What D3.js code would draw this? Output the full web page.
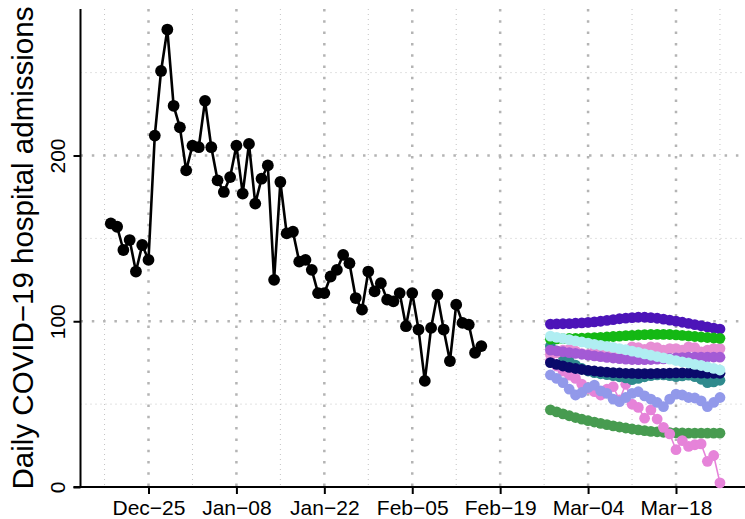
<!DOCTYPE html>
<html><head><meta charset="utf-8">
<script src="https://cdn.jsdelivr.net/npm/d3@7"></script>
<style>
html,body{margin:0;padding:0;background:#fff;}
svg{display:block;font-family:"Liberation Sans",Arial,Helvetica,sans-serif;}
</style>
</head><body>
<svg id="chart" width="745" height="519"></svg>
<script>
// ---------- DATA ----------
const observedStart = "2023-12-19";
const observed = [159,157,143,149,130,146,137,212,251,276,230,217,191,206,205,233,205,185,178,187,206,177,207,171,186,194,125,184,153,154,136,137,131,117,117,127,131,140,135,114,107,130,118,123,113,112,117,97,117,95,64,96,116,95,76,110,99,98,81,85];

const forecastStart = "2024-02-27";
const fcSeaGreen = [46.5,45.3,44.1,43.0,41.9,40.9,40.0,39.2,38.4,37.6,36.9,36.2,35.6,35.0,34.5,34.0,33.6,33.3,33.0,32.8,32.7,32.6,32.5,32.5,32.5,32.5,32.5,32.5];
const fcPinkLower = [76,73,70,67.5,65.5,62,59.5,57.5,55.5,59,60.5,52.5,62,50,48,41.5,46.5,41,36,32,22.5,28,24.5,25.5,26,15.5,19,2.5];
const fcPeriwinkle = [67.6,65.5,63,59,55.5,57,60,61.5,58,56.5,53,51.5,54,56.5,57.5,55,53,51,48.5,53,56,55.5,54,53.7,52,48.5,51,54];
const fcTeal = [85.0,82.0,79.0,76.0,73.5,71.5,70.0,69.0,68.3,67.8,67.2,66.5,65.8,64.8,65.5,66.5,67.2,67.6,67.6,67.2,66.6,67.0,67.5,66.6,65.0,63.0,63.4,64.4];
const fcPinkUpper = [80,81,82.5,83,82,80.5,80,81.5,81,79.5,80,80.5,81,84.5,84,83,84.5,84,82.5,83.5,83.5,82.5,84.5,84,81.5,82.5,83.5,83.5];
const fcMedPurple = [82.6,82.1,81.6,81.1,80.6,80.1,79.6,79.1,78.6,78.2,77.8,77.4,77.1,76.9,76.8,76.8,76.9,77.1,77.3,77.6,77.9,78.1,78.3,78.4,78.4,78.4,78.4,78.3];
const fcNavy = [75.0,74.0,73.0,72.2,71.5,70.9,70.4,70.0,69.6,69.3,69.0,68.8,68.6,68.5,68.4,68.4,68.4,68.5,68.6,68.7,68.8,68.8,68.8,68.8,68.7,68.6,68.6,68.6];
const fcPurple = [98.3,98.4,98.5,98.6,98.8,99.0,99.3,99.6,100.0,100.5,101.0,101.5,101.9,102.2,102.4,102.4,102.2,101.8,101.3,100.7,100.1,99.4,98.7,98.0,97.3,96.6,95.9,95.3];
const fcGreen = [89.3,89.4,89.5,89.6,89.7,89.8,89.9,90.1,90.3,90.5,90.8,91.0,91.3,91.5,91.7,91.9,92.0,92.1,92.1,92.0,91.8,91.5,91.2,90.8,90.5,90.2,89.9,89.7];
const fcCyan = [91.0,90.3,89.6,88.9,88.2,87.5,86.8,86.1,85.5,84.9,84.2,83.5,82.8,82.0,81.2,80.3,79.5,78.7,77.9,77.1,76.3,75.5,74.8,74.0,73.3,72.5,71.6,70.6];

const forecastList = [fcSeaGreen, fcPinkLower, fcPeriwinkle, fcTeal, fcPinkUpper, fcMedPurple, fcNavy, fcPurple, fcGreen, fcCyan];
const forecastColors = ["#479b50","#e683d9","#9299ea","#2f8a8d","#e78ed4","#a35ad5","#0a0a6b","#4c14b8","#14b814","#b0eef2"];

const xTickDates = ["2023-12-25","2024-01-08","2024-01-22","2024-02-05","2024-02-19","2024-03-04","2024-03-18"];
const xTickLabels = ["Dec\u221225","Jan\u221208","Jan\u221222","Feb\u221205","Feb\u221219","Mar\u221204","Mar\u221218"];
const yTicks = [0,100,200];
const yTickLabels = ["0","100","200"];
const yMinorGrid = [50,150,250];
const yTitle = "Daily COVID\u221219 hospital admissions";

// ---------- LAYOUT ----------
const pLeft = 80.5, pTop = 9, pBottom = 487, pRight = 745;

const svg = d3.select("#chart");
const parse = s => new Date(s + "T00:00:00Z");

const x = d3.scaleUtc().domain([parse("2023-12-25"), parse("2024-03-18")]).range([148.5, 676]);
const y = d3.scaleLinear().domain([0, 200]).range([487, 155.5]);

// ---------- GRID ----------
const g = svg.append("g");
const majorDates = xTickDates.map(parse);
const minorDates = d3.utcDay.range(parse("2023-12-18"), parse("2024-03-26"), 14);

g.selectAll("line.vmin").data(minorDates).enter().append("line")
  .attr("x1", d => x(d)).attr("x2", d => x(d)).attr("y1", pTop).attr("y2", pBottom)
  .attr("stroke", "#c4c4c4").attr("stroke-width", 1).attr("stroke-dasharray", "1,4");
g.selectAll("line.hmin").data(yMinorGrid).enter().append("line")
  .attr("x1", pLeft).attr("x2", pRight).attr("y1", d => y(d)).attr("y2", d => y(d))
  .attr("stroke", "#c4c4c4").attr("stroke-width", 1).attr("stroke-dasharray", "1,4");
g.selectAll("line.vmaj").data(majorDates).enter().append("line")
  .attr("x1", d => x(d)).attr("x2", d => x(d)).attr("y1", pTop).attr("y2", pBottom)
  .attr("stroke", "#b4b4b4").attr("stroke-width", 2.5).attr("stroke-dasharray", "2.5,8.8");
g.selectAll("line.hmaj").data(yTicks.filter(v => v > 0)).enter().append("line")
  .attr("x1", pLeft).attr("x2", pRight).attr("y1", d => y(d)).attr("y2", d => y(d))
  .attr("stroke", "#b4b4b4").attr("stroke-width", 2.5).attr("stroke-dasharray", "2.5,8.8");

// ---------- AXES ----------
const xAxis = d3.axisBottom(x).tickValues(majorDates).tickFormat((d, i) => xTickLabels[i]).tickSize(7).tickSizeOuter(0);
const gx = svg.append("g").attr("transform", `translate(0,${pBottom})`).call(xAxis);
gx.select(".domain").remove();
gx.selectAll(".tick line").attr("stroke", "#000").attr("stroke-width", 2);
gx.selectAll(".tick text").attr("y", 28).attr("dy", 0).attr("fill", "#000")
  .style("font-size", "21px").style("font-family", '"Liberation Sans",Arial,sans-serif');

const yAxis = d3.axisLeft(y).tickValues(yTicks).tickFormat((d, i) => yTickLabels[i]).tickSize(7).tickSizeOuter(0);
const gy = svg.append("g").attr("transform", `translate(${pLeft},0)`).call(yAxis);
gy.select(".domain").remove();
gy.selectAll(".tick line").attr("stroke", "#000").attr("stroke-width", 2);
gy.selectAll(".tick text").attr("transform", "rotate(-90)").attr("x", 0).attr("y", -15.5).attr("dy", 0)
  .attr("text-anchor", "middle").attr("fill", "#000")
  .style("font-size", "21px").style("font-family", '"Liberation Sans",Arial,sans-serif');

svg.append("line").attr("x1", pLeft).attr("x2", pLeft).attr("y1", pTop).attr("y2", pBottom + 1)
  .attr("stroke", "#000").attr("stroke-width", 2);
svg.append("line").attr("x1", pLeft - 7).attr("x2", pRight).attr("y1", pBottom).attr("y2", pBottom)
  .attr("stroke", "#000").attr("stroke-width", 2);

svg.append("text").attr("transform", `translate(33,${(pTop + pBottom) / 2}) rotate(-90)`)
  .attr("text-anchor", "middle").style("font-size", "29.5px").attr("fill", "#000").text(yTitle);

// ---------- SERIES ----------
const line = d3.line().x(d => x(d.date)).y(d => y(d.value));
const toPts = (start, arr) => arr.map((v, i) => ({ date: d3.utcDay.offset(parse(start), i), value: v }));

function drawSeries(pts, color, lw, r) {
  const s = svg.append("g");
  s.append("path").datum(pts).attr("d", line).attr("fill", "none").attr("stroke", color)
    .attr("stroke-width", lw).attr("stroke-linejoin", "round");
  s.selectAll("circle").data(pts).enter().append("circle")
    .attr("cx", d => x(d.date)).attr("cy", d => y(d.value)).attr("r", r).attr("fill", color);
}

drawSeries(toPts(observedStart, observed), "#000", 2.6, 5.9);
forecastList.forEach((arr, i) => drawSeries(toPts(forecastStart, arr), forecastColors[i], 1.6, 5.4));
</script>
</body></html>
